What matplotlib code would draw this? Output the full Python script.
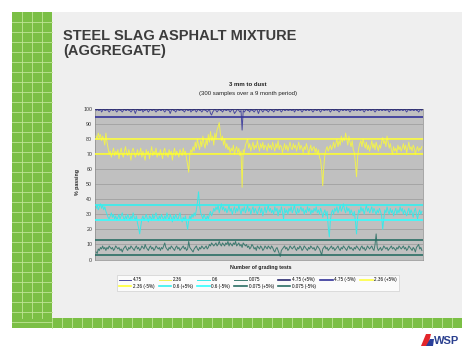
import numpy as np
import matplotlib
matplotlib.use("Agg")
import matplotlib.pyplot as plt
from matplotlib.patches import Rectangle, Polygon

plt.rcParams['font.family'] = ['Liberation Sans', 'DejaVu Sans']

# Données : 300 essais de granulométrie (% passant)
s475 = [99,100,99,99,100,98,99,100,99,99,100,99,98,99,100,99,99,100,99,98,
        99,100,99,99,98,99,100,99,99,100,99,99,98,99,100,99,97,99,100,99,
        99,99,100,98,99,99,100,99,98,99,100,99,99,100,99,98,99,99,100,99,
        99,100,99,98,99,100,99,99,97,99,100,99,99,98,99,100,99,99,100,99,
        99,98,99,100,99,99,100,98,99,99,100,99,98,99,100,99,99,98,99,100,
        99,99,98,99,100,97,96,98,99,100,99,98,99,100,99,99,98,99,100,99,
        99,100,99,98,99,100,99,97,98,99,100,99,98,99,86,99,98,99,100,99,
        99,98,100,99,99,98,99,100,99,97,99,100,99,98,99,100,99,99,98,99,
        100,99,99,98,99,100,99,99,100,99,98,99,100,99,99,100,99,99,100,99,
        99,100,98,99,100,99,99,100,99,98,99,100,99,99,100,99,99,100,99,98,
        99,100,99,99,100,99,98,99,100,99,99,100,99,100,99,98,99,100,99,99,
        100,99,99,98,99,100,99,99,100,99,99,100,99,98,99,100,99,99,100,99,
        99,100,99,99,100,99,98,99,100,99,99,100,99,99,100,99,98,99,100,99,
        99,100,99,99,100,99,99,100,99,98,99,100,99,99,100,99,99,100,99,99,
        100,99,99,100,99,98,99,100,99,99,100,99,99,100,99,99,98,99,100,99]

s236 = [82,80,84,81,83,79,82,80,76,84,78,74,70,72,68,71,74,69,72,70,
        73,67,71,74,70,68,72,75,71,69,73,70,66,72,74,71,68,70,73,69,
        71,74,68,72,69,66,73,70,72,67,71,75,69,72,70,74,68,71,69,73,
        70,67,72,74,69,71,68,73,70,72,66,71,74,69,72,70,68,73,71,69,
        74,70,72,67,63,58,70,73,71,75,72,78,74,80,76,73,79,75,82,77,
        74,80,76,83,78,85,79,82,76,84,80,86,88,91,84,79,82,76,80,74,
        77,73,75,71,74,72,76,70,73,75,71,74,69,72,48,73,71,76,78,80,
        74,77,72,75,78,73,76,74,79,75,72,77,74,78,73,76,75,72,77,74,
        76,73,78,75,72,77,74,79,73,76,75,71,74,77,73,76,72,75,78,74,
        73,77,74,76,72,75,78,73,76,74,71,75,73,77,74,70,73,76,72,74,
        75,71,74,70,73,68,66,60,49,62,70,73,75,72,74,76,73,75,78,74,
        77,80,75,79,76,82,78,81,79,84,80,76,82,78,75,79,73,71,64,55,
        68,74,77,79,75,80,77,74,78,73,76,72,75,79,74,77,73,78,75,72,
        76,74,78,81,77,79,75,82,78,74,77,73,70,75,72,74,71,76,73,75,
        72,74,77,73,76,71,74,78,73,75,72,76,74,70,73,75,72,74,73,75]

s06 = [34,36,33,35,37,34,36,33,35,32,30,28,27,29,31,28,30,27,29,26,
       28,30,27,29,31,28,26,29,27,30,28,26,29,27,31,28,26,29,24,21,
       17,22,27,29,26,28,30,27,25,29,28,26,30,27,29,31,28,26,29,27,
       30,28,26,29,27,31,28,26,30,28,25,29,27,30,28,26,29,31,27,25,
       28,26,29,24,20,26,29,27,30,28,31,29,33,38,45,36,31,29,27,30,
       28,26,29,27,30,32,29,31,34,32,35,33,36,31,34,37,33,35,32,34,
       31,33,36,32,34,30,33,35,31,34,32,36,33,30,34,32,35,31,33,36,
       32,34,30,33,35,31,34,32,30,33,35,31,34,29,32,35,31,33,36,32,
       34,31,33,30,35,32,34,29,33,31,35,32,27,34,31,33,30,34,32,35,
       31,33,36,32,30,34,31,33,35,32,34,30,33,31,35,32,34,30,33,31,
       34,32,35,31,33,30,34,32,28,31,33,29,32,22,15,26,31,33,30,34,
       32,35,31,33,36,32,34,37,33,31,35,32,34,30,33,31,29,32,25,17,
       28,33,31,35,32,34,30,33,36,32,34,31,33,35,31,34,32,30,33,31,
       34,32,29,20,27,33,31,35,32,30,34,31,33,29,32,34,30,33,31,35,
       32,34,30,33,31,29,32,34,30,33,31,28,32,34,30,27,31,33,30,32]

s0075 = [5,4,7,6,8,7,9,7,8,6,8,7,9,8,7,8,6,7,9,8,
         7,8,6,7,5,7,8,9,7,6,8,7,9,8,7,6,8,9,7,8,
         6,7,9,8,7,10,8,7,6,8,9,7,8,6,7,9,8,7,8,6,
         8,7,9,11,8,7,6,8,7,9,8,7,6,8,9,7,8,6,7,8,
         9,7,8,6,7,12,8,7,6,5,7,8,9,7,6,8,7,9,8,7,
         8,9,7,8,10,9,11,10,9,10,11,9,10,12,10,9,11,10,9,11,
         10,12,9,11,10,9,11,10,12,9,10,11,9,10,8,11,10,9,10,8,
         9,7,8,10,9,7,8,6,9,8,7,9,8,6,7,9,8,7,9,8,
         7,9,8,6,5,7,8,6,4,2,6,7,8,9,7,8,6,7,9,8,
         7,8,9,7,6,8,7,9,8,6,7,9,8,7,6,8,7,9,8,7,
         8,6,7,9,8,7,5,3,7,8,9,7,8,6,7,8,9,7,8,6,
         7,8,9,7,6,8,7,9,8,7,6,8,9,7,8,7,6,8,7,9,
         8,7,6,8,9,7,8,6,7,9,8,7,8,9,7,6,10,17,8,6,
         7,8,6,7,9,8,7,8,6,7,8,9,7,8,7,6,8,7,9,8,
         7,8,9,7,8,6,7,9,8,7,6,8,7,5,8,9,10,7,8,6]

# Limites (+5% / -5%)
lim_plus = {'4.75': 100, '2.36': 80, '0.6': 36, '0.075': 13}
lim_minus = {'4.75': 95, '2.36': 70, '0.6': 26, '0.075': 3}

fig = plt.figure(figsize=(4.74, 3.55), dpi=100)

# Fond de diapositive
bg = fig.add_axes([0, 0, 1, 1])
bg.set_xlim(0, 474)
bg.set_ylim(355, 0)
bg.axis('off')
bg.add_patch(Rectangle((52, 11.7), 410, 306.5, color='#efefef', lw=0))
green = '#7bbf45'
light = '#bfe596'
bg.add_patch(Rectangle((11.7, 11.7), 40, 316, color=green, lw=0))
bg.add_patch(Rectangle((11.7, 318.2), 450.3, 9.5, color=green, lw=0))
for k in range(1, 4):
    bg.plot([11.7 + 10 * k] * 2, [11.7, 318.2], color=light, lw=0.6)
for k in range(1, 32):
    bg.plot([11.7, 51.7], [11.7 + 10 * k] * 2, color=light, lw=0.6)
for k in range(4, 45):
    bg.plot([11.7 + 10 * k] * 2, [318.2, 327.7], color=light, lw=0.6)

bg.text(63, 28.5, "STEEL SLAG ASPHALT MIXTURE\n(AGGREGATE)", fontsize=10.5,
        fontweight='bold', color='#3c3c3c', va='top', ha='left', linespacing=1.1)

# Logo WSP
bg.add_patch(Polygon([[421, 346], [426, 334], [431, 334], [428, 346]], color='#e3262b', lw=0))
bg.add_patch(Polygon([[426, 346], [430, 339], [434, 339], [433, 346]], color='#2a3f9a', lw=0))
bg.text(434, 341, "WSP", fontsize=8, fontweight='bold', color='#2a3f8f',
        va='center', ha='left')

# Graphique
ax = fig.add_axes([95 / 474, 1 - 259.5 / 355, 328 / 474, 150.5 / 355])
ax.set_facecolor('#c0c0c0')
x = np.arange(1, len(s475) + 1)

h = []
h += ax.plot(x, s475, color='#4a4aa0', lw=0.7, label='4.75', zorder=3)
h += ax.plot(x, s236, color='#f0f050', lw=0.7, label='2.36', zorder=3)
h += ax.plot(x, s06, color='#3ce8e8', lw=0.7, label='0.6', zorder=3)
h += ax.plot(x, s0075, color='#3e7a70', lw=0.7, label='0.075', zorder=3)

h.append(ax.axhline(lim_plus['4.75'], color='#2b2b70', lw=1.2, label='4.75 (+5%)', zorder=4))
h.append(ax.axhline(lim_minus['4.75'], color='#333399', lw=1.2, label='4.75 (-5%)', zorder=4))
h.append(ax.axhline(lim_plus['2.36'], color='#ffff40', lw=1.2, label='2.36 (+5%)', zorder=4))
h.append(ax.axhline(lim_minus['2.36'], color='#ffff33', lw=1.2, label='2.36 (-5%)', zorder=4))
h.append(ax.axhline(lim_plus['0.6'], color='#33f0f0', lw=1.2, label='0.6 (+5%)', zorder=4))
h.append(ax.axhline(lim_minus['0.6'], color='#33ffff', lw=1.2, label='0.6 (-5%)', zorder=4))
h.append(ax.axhline(lim_plus['0.075'], color='#2a6e64', lw=1.2, label='0.075 (+5%)', zorder=4))
h.append(ax.axhline(lim_minus['0.075'], color='#2a6e64', lw=1.2, label='0.075 (-5%)', zorder=4))

ax.set_xlim(0, 301)
ax.set_ylim(0, 100)
ax.set_yticks(range(0, 101, 10))
ax.set_xticks([])
ax.tick_params(axis='y', labelsize=3.8, length=0, pad=2, colors='#333333')
ax.grid(axis='y', color='#9a9a9a', lw=0.5)
ax.set_axisbelow(True)
for sp in ax.spines.values():
    sp.set_color('#8a8a8a')
    sp.set_linewidth(0.5)

fig.text(248 / 474, 1 - 85 / 355, "3 mm to dust", fontsize=4.3, fontweight='bold',
         ha='center', va='center', color='#222222')
fig.text(248 / 474, 1 - 93 / 355, "(300 samples over a 9 month period)", fontsize=4.3,
         ha='center', va='center', color='#222222')
fig.text(78 / 474, 1 - 182 / 355, "% passing", fontsize=3.8, fontweight='bold',
         rotation=90, ha='center', va='center', color='#222222')
fig.text(261 / 474, 1 - 267 / 355, "Number of grading tests", fontsize=3.8,
         fontweight='bold', ha='center', va='center', color='#222222')

# ordre par lignes dans la légende (7 colonnes)
order = [0, 7, 1, 8, 2, 9, 3, 10, 4, 11, 5, 6]
leg = fig.legend([h[i] for i in order], [h[i].get_label() for i in order],
                 loc='center', bbox_to_anchor=(258 / 474, 1 - 283 / 355), ncol=7,
                 fontsize=3.3, frameon=True, fancybox=False, handlelength=2.7,
                 columnspacing=0.9, handletextpad=0.4, labelspacing=0.3,
                 borderpad=0.5)
leg.get_frame().set_edgecolor('#bbbbbb')
leg.get_frame().set_linewidth(0.4)

fig.savefig("out.png", dpi=100)
